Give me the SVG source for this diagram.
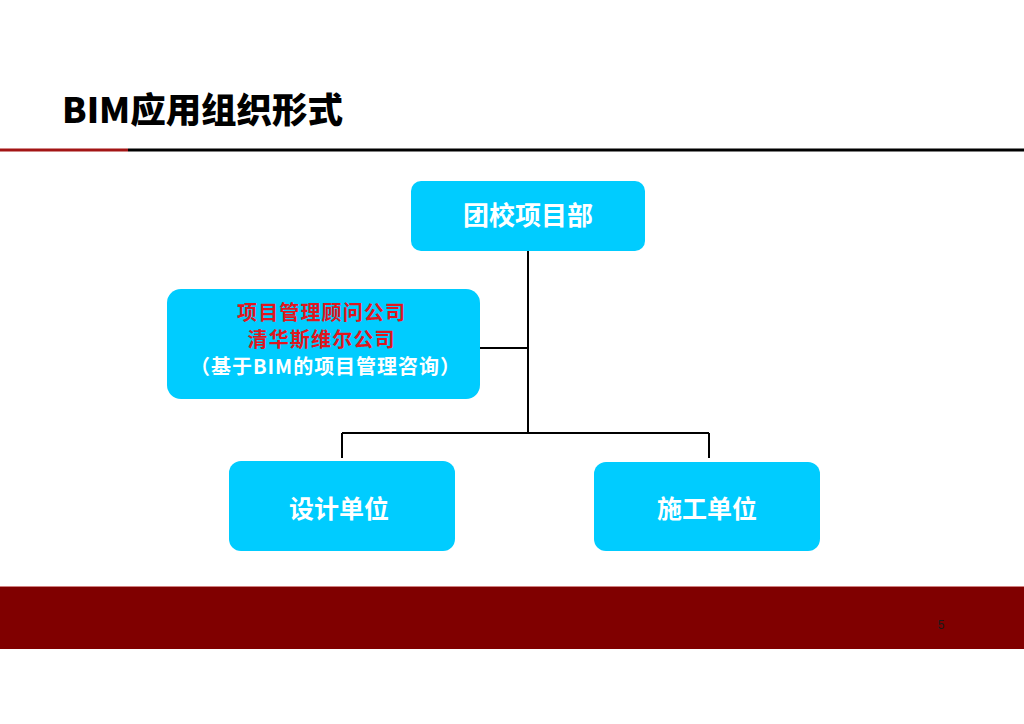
<svg xmlns="http://www.w3.org/2000/svg" width="1024" height="724" viewBox="0 0 1024 724">
<style>
.box{fill:#00CCFF;}
.t{font-family:"Noto Sans CJK SC","Liberation Sans",sans-serif;font-weight:bold;text-anchor:middle;}
.w{fill:#FFFFFF;}
.r{fill:#E0161E;}
.ln{stroke:#000;stroke-width:2;fill:none;}
</style>
<rect x="0" y="0" width="1024" height="724" fill="#FFFFFF"/>
<text x="62" y="123" font-family="Noto Sans CJK SC,Liberation Sans,sans-serif" font-weight="900" font-size="35" fill="#000" textLength="281" lengthAdjust="spacingAndGlyphs">BIM应用组织形式</text>
<rect x="0" y="148.5" width="128" height="3" fill="#A31515"/>
<rect x="128" y="148.5" width="896" height="3" fill="#000"/>
<g id="connectors">
<path class="ln" d="M528 251 V432 M480 348 H528 M342 433 H709 M342 433 V458 M709 433 V458"/>
</g>
<g id="n1">
<rect class="box" x="411" y="181" width="234" height="70" rx="10"/>
<text class="t w" x="528" y="225" font-size="26">团校项目部</text>
</g>
<g id="n2">
<rect class="box" x="167" y="289" width="313" height="110" rx="14"/>
<text class="t r" x="321" y="320" font-size="20" textLength="168" lengthAdjust="spacing">项目管理顾问公司</text>
<text class="t r" x="321" y="347" font-size="20" textLength="147" lengthAdjust="spacing">清华斯维尔公司</text>
<text class="t w" x="325" y="374" font-size="20" textLength="270" lengthAdjust="spacing">（基于BIM的项目管理咨询）</text>
</g>
<g id="n3">
<rect class="box" x="229" y="461" width="226" height="90" rx="12"/>
<text class="t w" x="339" y="518" font-size="25">设计单位</text>
</g>
<g id="n4">
<rect class="box" x="594" y="462" width="226" height="89" rx="12"/>
<text class="t w" x="707" y="518" font-size="25">施工单位</text>
</g>
<rect x="0" y="586" width="1024" height="63" fill="#800000"/>
<rect x="0" y="586" width="1024" height="1" fill="#D08080"/>
<text x="941" y="629" font-family="Liberation Sans,sans-serif" font-size="12" fill="#1a1a1a" text-anchor="middle">5</text>
</svg>
